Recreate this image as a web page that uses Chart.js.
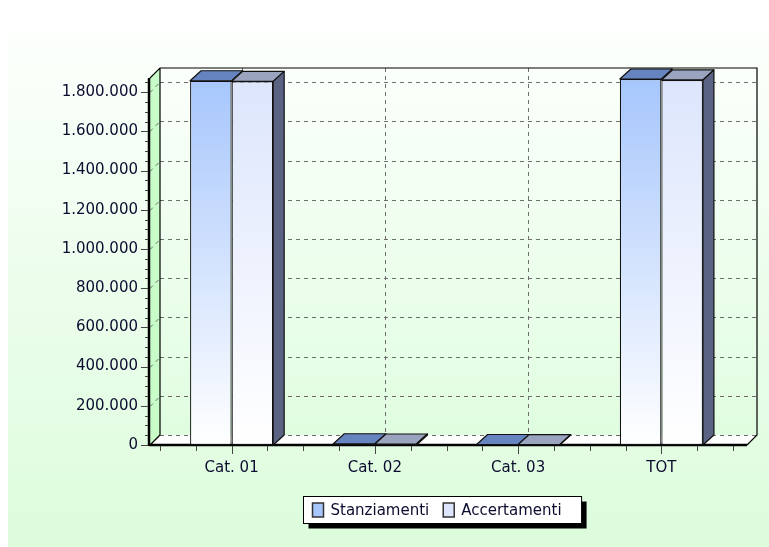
<!DOCTYPE html>
<html>
<head>
<meta charset="utf-8">
<script src="https://cdn.jsdelivr.net/npm/chart.js@4.4.0/dist/chart.umd.min.js"></script>
<style>
  html, body { margin: 0; padding: 0; background: #fff; overflow: hidden; }
</style>
</head>
<body>
<canvas id="chart" width="769" height="547"></canvas>
<script>
// data
const categories = ['Cat. 01', 'Cat. 02', 'Cat. 03', 'TOT'];
const stanziamenti = [1858000, 6500, 2500, 1867000];
const accertamenti = [1855000, 5000, 2000, 1862000];
const yTicks = [0, 200000, 400000, 600000, 800000, 1000000, 1200000, 1400000, 1600000, 1800000];
const yMax = 1872000;
const yMinorStep = 50000;

const FONT = '"DejaVu Sans", sans-serif';
const TEXT = '#0c0c30';
const WALL = 10;      // depth of walls
const BAR_DX = 11, BAR_DY = 10;

const fmt = v => String(v).replace(/\B(?=(\d{3})+(?!\d))/g, '.');

function frontGradient(ctx, color) {
  const chart = ctx.chart;
  const ca = chart.chartArea;
  if (!ca) return color;
  const g = chart.ctx.createLinearGradient(0, ca.top, 0, ca.bottom);
  g.addColorStop(0, color);
  g.addColorStop(1, '#ffffff');
  return g;
}

const series = [
  { label: 'Stanziamenti', data: stanziamenti, front: '#a6c6fc', top: '#6684bf' },
  { label: 'Accertamenti', data: accertamenti, front: '#dce5fc', top: '#9aa4bf' }
];
const SIDE = '#5a6482';

// 3d walls, floor, bar tops and the boxed legend
const scene = {
  id: 'scene',
  beforeDraw(chart) {
    const c = chart.ctx;
    c.save();
    c.fillStyle = '#ffffff';
    c.fillRect(0, 0, chart.width, chart.height);
    const g = c.createLinearGradient(0, 30, 0, chart.height);
    g.addColorStop(0, '#fcfffc');
    g.addColorStop(1, '#dcfcdc');
    c.fillStyle = g;
    c.fillRect(8, 30, chart.width - 8, chart.height - 30);
    c.restore();
  },
  beforeDatasetsDraw(chart) {
    const c = chart.ctx, ca = chart.chartArea;
    const x = chart.scales.x, y = chart.scales.y;
    const fl = ca.left - WALL, fr = ca.right + 14, top = ca.top, bot = ca.bottom;
    const bl = fl + WALL, br = fr + WALL, btop = top - WALL, bbot = bot - WALL;
    c.save();

    // back wall
    const g = c.createLinearGradient(0, btop, 0, bbot);
    g.addColorStop(0, '#fbfffb');
    g.addColorStop(1, '#e0fde0');
    c.fillStyle = g;
    c.fillRect(bl, btop, br - bl, bbot - btop);

    // left wall
    c.fillStyle = '#c8fcc8';
    c.beginPath();
    c.moveTo(fl, top); c.lineTo(bl, btop); c.lineTo(bl, bbot); c.lineTo(fl, bot);
    c.closePath(); c.fill();

    // floor
    c.fillStyle = '#ffffff';
    c.beginPath();
    c.moveTo(fl, bot); c.lineTo(fr, bot); c.lineTo(br, bbot); c.lineTo(bl, bbot);
    c.closePath(); c.fill();

    // dashed grid
    c.strokeStyle = '#6e6e6e';
    c.lineWidth = 1;
    c.setLineDash([4, 4]);
    y.ticks.forEach(t => {
      const py = Math.round(y.getPixelForValue(t.value)) + 0.5;
      c.beginPath();
      c.moveTo(bl, py - WALL); c.lineTo(br, py - WALL);
      c.stroke();
      c.beginPath();
      c.moveTo(fl, py); c.lineTo(bl, py - WALL);
      c.stroke();
    });
    categories.forEach((_, i) => {
      const px = Math.round(x.getPixelForValue(i)) + WALL + 0.5;
      c.beginPath();
      c.moveTo(px, btop); c.lineTo(px, bbot);
      c.stroke();
    });
    c.setLineDash([]);

    // edges
    c.strokeStyle = '#000';
    c.lineWidth = 1.2;
    c.beginPath();
    c.moveTo(fl, top); c.lineTo(bl, btop); c.lineTo(br, btop); c.lineTo(br, bbot); c.lineTo(fr, bot);
    c.moveTo(bl, btop); c.lineTo(bl, bbot); c.lineTo(fl, bot);
    c.stroke();
    c.lineWidth = 2.5;
    c.beginPath();
    c.moveTo(fl - 1, bot); c.lineTo(fr, bot);
    c.moveTo(fl - 1, bot + 1); c.lineTo(fl - 1, top);
    c.stroke();

    // y ticks
    c.strokeStyle = '#444';
    c.lineWidth = 1;
    const major = yTicks[1] - yTicks[0];
    for (let v = 0; v <= yMax; v += yMinorStep) {
      const py = Math.round(y.getPixelForValue(v)) + 0.5;
      const len = v % major === 0 ? 7 : 3;
      c.beginPath();
      c.moveTo(fl - 2 - len, py); c.lineTo(fl - 2, py);
      c.stroke();
    }
    // x ticks
    const step = x.getPixelForValue(1) - x.getPixelForValue(0);
    for (let k = 0; k <= categories.length * 4; k++) {
      const px = Math.round(x.getPixelForValue(0) - step / 2 + k * step / 4) + 0.5;
      const len = k % 4 === 2 ? 8 : 5;
      c.beginPath();
      c.moveTo(px, bot + 1); c.lineTo(px, bot + 1 + len);
      c.stroke();
    }
    c.restore();
  },
  afterDatasetsDraw(chart) {
    const c = chart.ctx;
    c.save();
    c.strokeStyle = '#111';
    c.lineWidth = 1.2;
    c.lineJoin = 'round';
    chart.data.datasets.forEach((ds, di) => {
      const meta = chart.getDatasetMeta(di);
      meta.data.forEach(bar => {
        const { x, y, base, width } = bar.getProps(['x', 'y', 'base', 'width'], true);
        const l = x - width / 2, r = x + width / 2;
        c.fillStyle = series[di].top;
        c.beginPath();
        c.moveTo(l, y); c.lineTo(r, y); c.lineTo(r + BAR_DX, y - BAR_DY); c.lineTo(l + BAR_DX, y - BAR_DY);
        c.closePath(); c.fill(); c.stroke();
        if (di === chart.data.datasets.length - 1) {
          c.fillStyle = SIDE;
          c.beginPath();
          c.moveTo(r, y); c.lineTo(r + BAR_DX, y - BAR_DY); c.lineTo(r + BAR_DX, base - BAR_DY); c.lineTo(r, base);
          c.closePath(); c.fill(); c.stroke();
        }
      });
    });
    c.restore();
  },
  afterDraw(chart) {
    const c = chart.ctx, ca = chart.chartArea;
    c.save();
    c.font = '15px ' + FONT;
    const sw = 11, sh = 14, gap = 7, itemGap = 14, padL = 9, padR = 20;
    const widths = series.map(s => c.measureText(s.label).width);
    const inner = widths.reduce((a, w) => a + sw + gap + w, 0) + itemGap * (series.length - 1);
    const bw = padL + inner + padR, bh = 27;
    const bx = Math.round((ca.left + ca.right) / 2 - bw / 2) - 3.5, by = 496.5;
    c.fillStyle = '#000';
    c.fillRect(bx + 5, by + 5, bw, bh);
    c.fillStyle = '#fff';
    c.fillRect(bx, by, bw, bh);
    c.strokeStyle = '#000';
    c.lineWidth = 1;
    c.strokeRect(bx, by, bw, bh);
    let cx = bx + padL;
    const cy = by + bh / 2;
    series.forEach((s, i) => {
      c.fillStyle = s.front;
      c.fillRect(cx, cy - sh / 2, sw, sh);
      c.strokeStyle = '#333';
      c.lineWidth = 1.5;
      c.strokeRect(cx, cy - sh / 2, sw, sh);
      c.fillStyle = TEXT;
      c.textBaseline = 'middle';
      c.fillText(s.label, cx + sw + gap, cy + 1);
      cx += sw + gap + widths[i] + itemGap;
    });
    c.restore();
  }
};

new Chart(document.getElementById('chart'), {
  type: 'bar',
  data: {
    labels: categories,
    datasets: series.map(s => ({
      label: s.label,
      data: s.data,
      backgroundColor: ctx => frontGradient(ctx, s.front),
      borderColor: '#111',
      borderWidth: 1.2,
      borderSkipped: false,
      categoryPercentage: 0.58,
      barPercentage: 1.0
    }))
  },
  options: {
    responsive: false,
    animation: false,
    layout: { padding: { left: 0, right: 36, top: 78, bottom: 0 } },
    plugins: { legend: { display: false }, tooltip: { enabled: false } },
    scales: {
      x: {
        afterFit: s => { s.height = 102; },
        grid: { display: false, drawTicks: false },
        border: { display: false },
        ticks: { color: TEXT, font: { family: FONT, size: 15 }, padding: 14 }
      },
      y: {
        min: 0,
        max: yMax,
        afterFit: s => { s.width = 160; },
        afterBuildTicks: s => { s.ticks = yTicks.map(v => ({ value: v })); },
        grid: { display: false, drawTicks: false },
        border: { display: false },
        ticks: {
          autoSkip: false,
          color: TEXT,
          font: { family: FONT, size: 15 },
          padding: 22,
          callback: v => fmt(v)
        }
      }
    }
  },
  plugins: [scene]
});
</script>
</body>
</html>
